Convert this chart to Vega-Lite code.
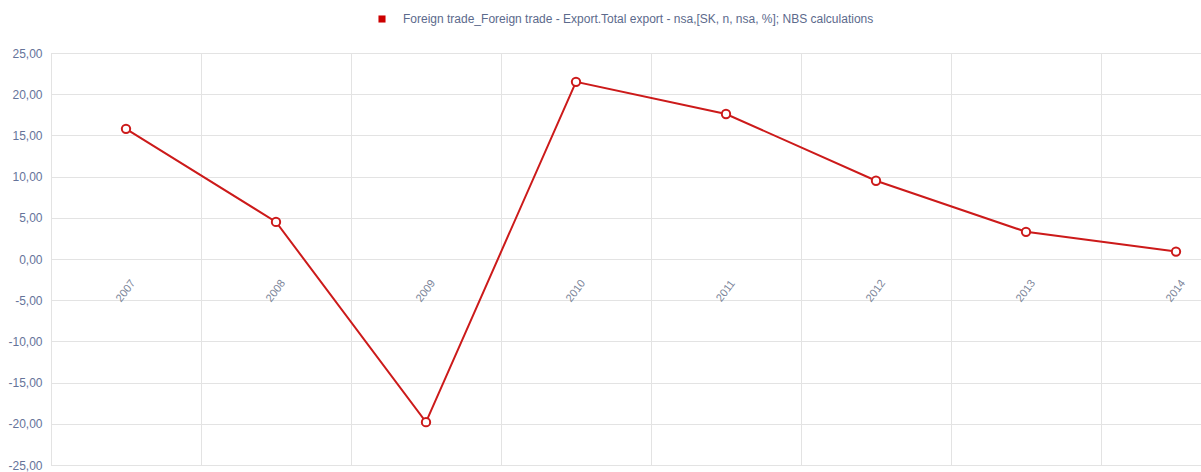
{
  "$schema": "https://vega.github.io/schema/vega-lite/v6.json",
  "autosize": {"type": "none"},
  "padding": {"left": 51, "top": 53, "right": 0, "bottom": 7},
  "width": 1200,
  "height": 412,
  "background": "white",
  "data": {
    "values": [
      {"year": "2007", "value": 15.8, "series": "Foreign trade_Foreign trade - Export.Total export - nsa,[SK, n, nsa, %]; NBS calculations"},
      {"year": "2008", "value": 4.5, "series": "Foreign trade_Foreign trade - Export.Total export - nsa,[SK, n, nsa, %]; NBS calculations"},
      {"year": "2009", "value": -19.8, "series": "Foreign trade_Foreign trade - Export.Total export - nsa,[SK, n, nsa, %]; NBS calculations"},
      {"year": "2010", "value": 21.5, "series": "Foreign trade_Foreign trade - Export.Total export - nsa,[SK, n, nsa, %]; NBS calculations"},
      {"year": "2011", "value": 17.6, "series": "Foreign trade_Foreign trade - Export.Total export - nsa,[SK, n, nsa, %]; NBS calculations"},
      {"year": "2012", "value": 9.5, "series": "Foreign trade_Foreign trade - Export.Total export - nsa,[SK, n, nsa, %]; NBS calculations"},
      {"year": "2013", "value": 3.3, "series": "Foreign trade_Foreign trade - Export.Total export - nsa,[SK, n, nsa, %]; NBS calculations"},
      {"year": "2014", "value": 0.9, "series": "Foreign trade_Foreign trade - Export.Total export - nsa,[SK, n, nsa, %]; NBS calculations"}
    ]
  },
  "encoding": {
    "x": {
      "field": "year",
      "type": "ordinal",
      "scale": {"type": "band", "paddingInner": 0, "paddingOuter": 0},
      "axis": {
        "bandPosition": 0,
        "labels": false,
        "ticks": false,
        "domain": false,
        "grid": true,
        "gridColor": "#e3e3e3",
        "gridWidth": 1,
        "title": null
      }
    }
  },
  "layer": [
    {
      "mark": {
        "type": "line",
        "strokeWidth": 2,
        "point": {"filled": false, "fill": "white", "size": 70, "strokeWidth": 2}
      },
      "encoding": {
        "y": {
          "field": "value",
          "type": "quantitative",
          "scale": {"domain": [-25, 25], "nice": false, "zero": false},
          "axis": {
            "values": [-25, -20, -15, -10, -5, 0, 5, 10, 15, 20, 25],
            "labelExpr": "replace(replace(format(datum.value, '.2f'), '.', ','), '\u2212', '-')",
            "ticks": false,
            "domain": true,
            "domainColor": "#e3e3e3",
            "grid": true,
            "gridColor": "#e3e3e3",
            "gridWidth": 1,
            "labelPadding": 9,
            "labelColor": "#65739a",
            "labelFont": "Liberation Sans Narrow, Arial Narrow, Liberation Sans",
            "labelFontSize": 12,
            "title": null
          }
        },
        "color": {
          "field": "series",
          "type": "nominal",
          "scale": {"range": ["#cc1a1a"]},
          "legend": {
            "orient": "none",
            "legendX": 325,
            "legendY": -40,
            "title": null,
            "symbolType": "square",
            "symbolSize": 50,
            "labelOffset": 15,
            "labelFont": "Liberation Sans Narrow, Arial Narrow, Liberation Sans",
            "labelFontSize": 12,
            "labelColor": "#5c6a8c",
            "labelLimit": 0,
            "encode": {
              "symbols": {
                "update": {
                  "fill": {"value": "#cc0000"},
                  "stroke": {"value": "#cc0000"},
                  "strokeWidth": {"value": 0},
                  "opacity": {"value": 1},
                  "shape": {"value": "square"},
                  "size": {"value": 50}
                }
              }
            }
          }
        }
      }
    },
    {
      "mark": {
        "type": "text",
        "angle": 307,
        "align": "center",
        "baseline": "middle",
        "font": "Liberation Sans Narrow, Arial Narrow, Liberation Sans",
        "fontSize": 11,
        "color": "#7a8499"
      },
      "encoding": {
        "y": {"datum": -3.9, "type": "quantitative"},
        "text": {"field": "year"}
      }
    }
  ]
}
